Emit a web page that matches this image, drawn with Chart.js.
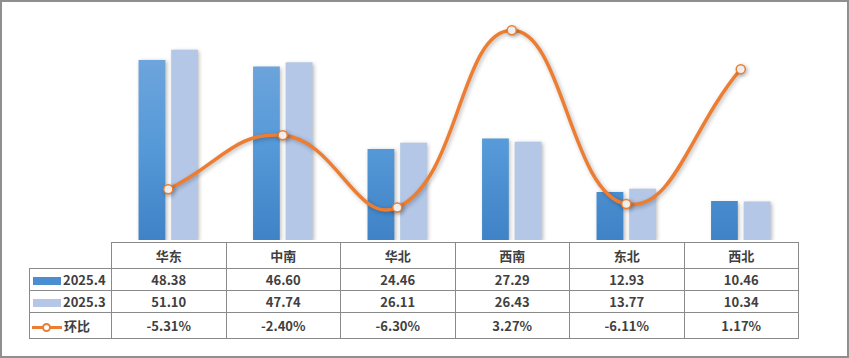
<!DOCTYPE html>
<html>
<head>
<meta charset="utf-8">
<script src="https://cdn.jsdelivr.net/npm/chart.js@4.4.1/dist/chart.umd.min.js"></script>
<style>
  html, body { margin: 0; padding: 0; background: #fff; }
  #frame { position: absolute; left: 0; top: 0; width: 849px; height: 358px; box-sizing: border-box; border: 2px solid #8f8f8f; }
  #chartBox { position: absolute; left: 0; top: 0; width: 849px; height: 246px; }
  table { position: absolute; left: 29px; top: 242px; border-collapse: collapse; table-layout: fixed; background: #fff;
          font-family: "Noto Sans CJK SC", "Open Sans", sans-serif; font-weight: bold; font-size: 13px; color: #404040; }
  td { border: 1.3px solid #8a8a8a; text-align: center; padding: 0; line-height: 1; }
  td.corner { border-top: none; border-left: none; }
  td.lab { text-align: left; padding-left: 3px; white-space: nowrap; }
  .key { display: inline-block; vertical-align: middle; margin-right: 2px; position: relative; }
  .k1 { width: 28px; height: 8px; background: #4a8ed2; }
  .k2 { width: 28px; height: 8px; background: #b4c7e7; }
  .k3 { width: 30px; height: 3px; background: #ed7d31; margin-left: -1px; }
  .k3::after { content: ""; position: absolute; left: 10px; top: -3px; width: 9px; height: 9px; border-radius: 50%;
               background: #fff; border: 2px solid #ed7d31; box-sizing: border-box; }
</style>
</head>
<body>
<div id="frame"></div>
<div id="chartBox"><canvas id="c"></canvas></div>
<table id="tbl"></table>
<script>
const categories = ['华东', '中南', '华北', '西南', '东北', '西北'];
const apr = [48.38, 46.60, 24.46, 27.29, 12.93, 10.46];
const mar = [51.10, 47.74, 26.11, 26.43, 13.77, 10.34];
const mom = [-5.31, -2.40, -6.30, 3.27, -6.11, 1.17];
const seriesNames = ['2025.4', '2025.3', '环比'];

// data table under the plot
const tbl = document.getElementById('tbl');
const colW = 114.5;
let html = '<colgroup><col style="width:82px">' + categories.map(() => `<col style="width:${colW}px">`).join('') + '</colgroup>';
html += '<tr style="height:26px"><td class="corner"></td>' + categories.map(c => `<td>${c}</td>`).join('') + '</tr>';
html += `<tr style="height:22px"><td class="lab"><span class="key k1"></span>${seriesNames[0]}</td>` + apr.map(v => `<td>${v.toFixed(2)}</td>`).join('') + '</tr>';
html += `<tr style="height:22px"><td class="lab"><span class="key k2"></span>${seriesNames[1]}</td>` + mar.map(v => `<td>${v.toFixed(2)}</td>`).join('') + '</tr>';
html += `<tr style="height:26px"><td class="lab"><span class="key k3"></span>${seriesNames[2]}</td>` + mom.map(v => `<td>${v.toFixed(2)}%</td>`).join('') + '</tr>';
tbl.innerHTML = html;

function blueGradient(context) {
  const chart = context.chart;
  const area = chart.chartArea;
  if (!area) return '#5b9bd5';
  const g = chart.ctx.createLinearGradient(0, area.top + 40, 0, area.bottom);
  g.addColorStop(0, '#6ea5dc');
  g.addColorStop(0.5, '#5599d8');
  g.addColorStop(1, '#3f82c6');
  return g;
}

const shadowPlugin = {
  id: 'shadow',
  beforeDatasetDraw(chart) {
    const ctx = chart.ctx;
    ctx.save();
    ctx.shadowColor = 'rgba(0,0,0,0.28)';
    ctx.shadowBlur = 4;
    ctx.shadowOffsetX = 1.5;
    ctx.shadowOffsetY = 1.5;
  },
  afterDatasetDraw(chart) {
    chart.ctx.restore();
  }
};

new Chart(document.getElementById('c'), {
  data: {
    labels: categories,
    datasets: [
      {
        type: 'line', label: seriesNames[2], data: mom, yAxisID: 'y2',
        borderColor: '#ed7d31', borderWidth: 3.5, tension: 0.45,
        pointRadius: 4.5, pointBackgroundColor: '#fff', pointBorderColor: '#ed7d31', pointBorderWidth: 1.5,
        order: 0
      },
      {
        type: 'bar', label: seriesNames[0], data: apr, yAxisID: 'y',
        backgroundColor: blueGradient, categoryPercentage: 0.57, barPercentage: 0.82, order: 1
      },
      {
        type: 'bar', label: seriesNames[1], data: mar, yAxisID: 'y',
        backgroundColor: '#b4c7e7', categoryPercentage: 0.57, barPercentage: 0.82, order: 1
      }
    ]
  },
  options: {
    responsive: true,
    maintainAspectRatio: false,
    animation: false,
    layout: { padding: { left: 111, right: 51, top: 16.7, bottom: 0 } },
    plugins: { legend: { display: false }, tooltip: { enabled: false } },
    scales: {
      x: { display: false, offset: true },
      y: { display: false, min: 0, max: 60 },
      y2: { display: false, position: 'right', min: -8.05, max: 4 }
    }
  },
  plugins: [shadowPlugin]
});
</script>
</body>
</html>
